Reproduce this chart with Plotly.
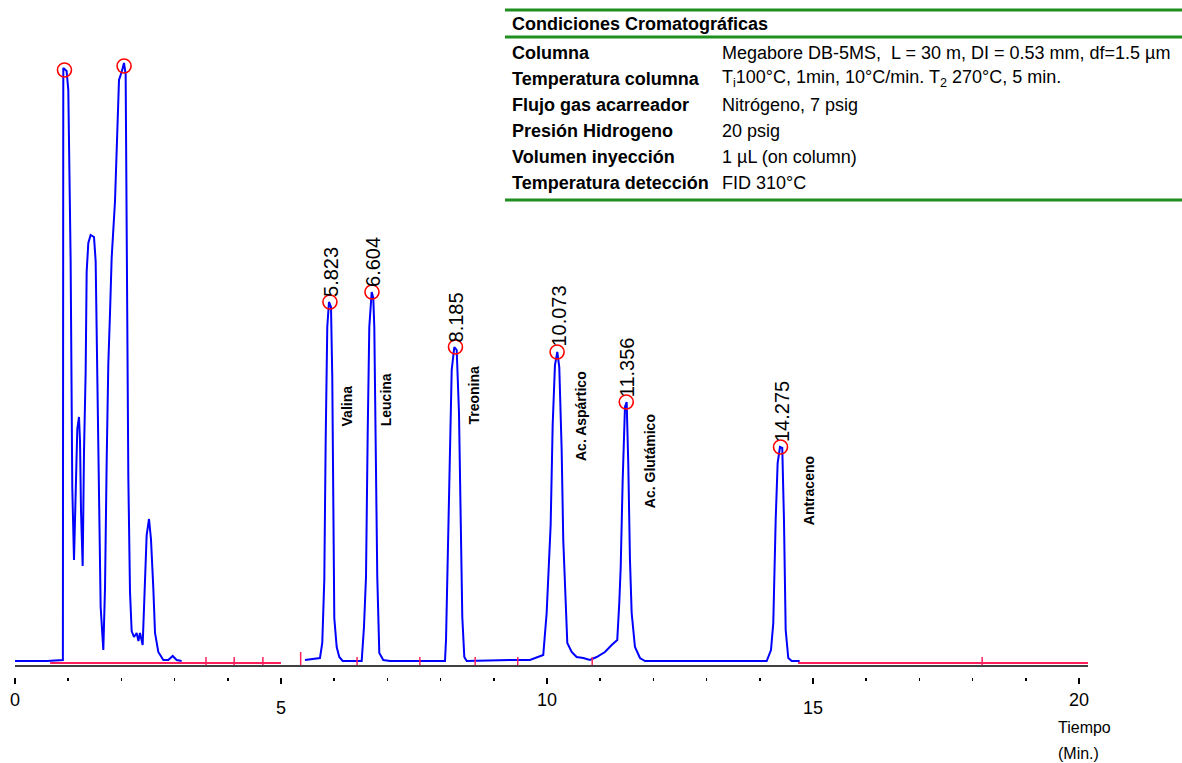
import plotly.graph_objects as go

# ---------------- data ----------------
# chromatogram trace: time (min) and detector signal (arbitrary units)
time_min = [
    0.00, 0.60, 0.90, 0.908, 0.97, 1.002, 1.046, 1.077, 1.109, 1.128, 1.171, 1.203, 1.222, 1.241,
    1.272, 1.297, 1.328, 1.347, 1.378, 1.422, 1.485, 1.516, 1.547, 1.579, 1.61, 1.66, 1.692, 1.723,
    1.754, 1.786, 1.817, 1.88, 1.911, 1.955, 2.005, 2.049, 2.08, 2.099, 2.13, 2.162, 2.193, 2.237,
    2.287, 2.32, 2.35, 2.40, 2.431, 2.475, 2.519, 2.556, 2.60, 2.632, 2.694, 2.788, 2.882, 2.964,
    3.039, 3.133,
    None,
    5.451, 5.733, 5.776, 5.814, 5.840, 5.870, 5.902, 5.940, 5.964, 5.983, 6.002, 6.047, 6.096, 6.160,
    6.517, 6.560, 6.598, 6.630, 6.660, 6.705, 6.735, 6.754, 6.786, 6.810, 6.848, 6.923, 7.05,
    7.739, 8.083, 8.102, 8.133, 8.177, 8.209, 8.258, 8.303, 8.346, 8.378, 8.408, 8.446, 8.491,
    9.35, 9.680, 9.930, 9.994, 10.069, 10.107, 10.150, 10.194, 10.231, 10.276, 10.306, 10.352,
    10.382, 10.464, 10.558, 10.682, 10.808, 10.934, 11.090, 11.216, 11.321, 11.359, 11.386, 11.423,
    11.466, 11.498, 11.528, 11.560, 11.592, 11.654, 11.748, 11.842,
    14.130, 14.211, 14.254, 14.299, 14.336, 14.380, 14.423, 14.455, 14.487, 14.536, 14.600, 14.75,
]
signal = [
    0, 0, 1, 593, 590, 571, 400, 173, 101, 138, 232, 244, 220, 150,
    95, 209, 289, 389, 418, 426, 424, 400, 291, 138, 54, 11, 73, 199,
    297, 348, 403, 460, 520, 581, 589, 598, 587, 434, 185, 69, 30, 24,
    28, 20, 28, 16, 69, 126, 142, 122, 73, 28, 9, 1, 1, 5,
    1, 0,
    None,
    1, 3, 18, 81, 221, 334, 359, 354, 284, 164, 43, 14, 4, 0,
    0, 34, 84, 228, 334, 369, 363, 334, 218, 84, 8, 1, 0,
    0, 0, 21, 91, 204, 291, 314, 311, 248, 121, 44, 4, 0,
    1, 1, 6, 48, 136, 236, 296, 309, 294, 211, 121, 54,
    18, 9, 4, 3, 1, 4, 9, 16, 21, 58, 94, 181,
    254, 259, 198, 101, 48, 14, 3, 0,
    0, 11, 38, 141, 198, 214, 213, 141, 31, 3, 0, 0,
]

# detected apexes (circled)
apex_time = [0.93, 2.05, 5.92, 6.71, 8.28, 10.19, 11.49, 14.39]
apex_signal = [591, 595, 359, 369, 314, 309, 259, 214]
# retention-time labels belong to the last six apexes
rt_labels = ["5.823", "6.604", "8.185", "10.073", "11.356", "14.275"]

# compound names and where they are written
compounds = ["Valina", "Leucina", "Treonina", "Ac. Aspártico", "Ac. Glutámico", "Antraceno"]
compound_time = [6.24, 6.97, 8.61, 10.64, 11.94, 14.92]
compound_signal = [233, 233, 234, 198, 151, 134]

# integration baseline and event marks
baseline_time = [0.66, 5.0, None, 14.72, 20.17]
baseline_signal = [-2, -2, None, -2, -2]
event_time = [3.59, 4.12, 4.66, 5.37, 6.43, 7.61, 8.65, 9.45, 10.85, 18.18]

# axis ticks / labels (labels alternate between two heights)
x_ticks_upper = [0, 10, 20]
x_labels_upper = ["0", "10", "20"]
x_ticks_lower = [5, 15]
x_labels_lower = ["5", "15"]

# conditions table
table_title = "Condiciones Cromatográficas"
table_keys = ["Columna", "Temperatura columna", "Flujo gas acarreador",
              "Presión Hidrogeno", "Volumen inyección", "Temperatura detección"]
table_values = ["Megabore DB-5MS,  L = 30 m, DI = 0.53 mm, df=1.5 µm",
                "T<sub>i</sub>100°C, 1min, 10°C/min. T<sub>2</sub> 270°C, 5 min.",
                "Nitrógeno, 7 psig",
                "20 psig",
                "1 µL (on column)",
                "FID 310°C"]

# ---------------- layout geometry ----------------
W, H = 1182, 763
ML, MR, MT, MB = 15, 94, 0, 86
PW = W - ML - MR
PH = H - MT - MB


def fx(px):
    return (px - ML) / PW


def fy(py):
    return 1 - (py - MT) / PH


FONT = "Liberation Sans, Arial, sans-serif"
BLUE = "#0000ff"
RED = "#ff0000"
PINK = "#ff1f5a"
GREEN = "#1f8f1f"

fig = go.Figure()

# axis line (on overlaid axis so that axis is drawn)
fig.add_trace(go.Scatter(x=[0, 20.17], y=[-5, -5], mode="lines",
                         line=dict(color="black", width=1.6),
                         xaxis="x2", hoverinfo="skip", showlegend=False))

# chromatogram
fig.add_trace(go.Scatter(x=time_min, y=signal, mode="lines",
                         line=dict(color=BLUE, width=2), connectgaps=False,
                         hoverinfo="skip", showlegend=False))

# integration baseline
fig.add_trace(go.Scatter(x=baseline_time, y=baseline_signal, mode="lines",
                         line=dict(color=PINK, width=2), connectgaps=False,
                         hoverinfo="skip", showlegend=False))

# event marks
ev_x, ev_y = [], []
for i, t in enumerate(event_time):
    top = 9 if i == 3 else 4
    ev_x += [t, t, None]
    ev_y += [-4, top, None]
fig.add_trace(go.Scatter(x=ev_x, y=ev_y, mode="lines",
                         line=dict(color=PINK, width=1.5),
                         hoverinfo="skip", showlegend=False))

# apex circles
fig.add_trace(go.Scatter(x=apex_time, y=apex_signal, mode="markers",
                         marker=dict(symbol="circle-open", size=14, color=RED,
                                     line=dict(width=1.6, color=RED)),
                         hoverinfo="skip", showlegend=False, cliponaxis=False))

annotations = []
# retention-time labels
for t, s, lab in zip(apex_time[2:], apex_signal[2:], rt_labels):
    annotations.append(dict(x=t, y=s, text=lab, showarrow=False, textangle=-90,
                            xanchor="center", yanchor="bottom", yshift=3, xshift=1,
                            font=dict(family=FONT, size=20, color="black")))
# compound labels
for t, s, lab in zip(compound_time, compound_signal, compounds):
    annotations.append(dict(x=t, y=s, text="<b>" + lab + "</b>", showarrow=False,
                            textangle=-90, xanchor="center", yanchor="bottom",
                            font=dict(family=FONT, size=14, color="black")))

# table
annotations.append(dict(xref="paper", yref="paper", x=fx(510), y=fy(24),
                        text="<b>" + table_title + "</b>", showarrow=False,
                        xanchor="left", yanchor="middle",
                        font=dict(family=FONT, size=18, color="black")))
row_y = [53, 79, 105, 131, 157, 183]
for ry, k, v in zip(row_y, table_keys, table_values):
    annotations.append(dict(xref="paper", yref="paper", x=fx(510), y=fy(ry),
                            text="<b>" + k + "</b>", showarrow=False,
                            xanchor="left", yanchor="middle",
                            font=dict(family=FONT, size=18, color="black")))
    annotations.append(dict(xref="paper", yref="paper", x=fx(720), y=fy(ry),
                            text=v, showarrow=False,
                            xanchor="left", yanchor="middle",
                            font=dict(family=FONT, size=18, color="black")))

# axis title
annotations.append(dict(xref="paper", yref="paper", x=fx(1056), y=fy(727),
                        text="Tiempo", showarrow=False, xanchor="left", yanchor="middle",
                        font=dict(family=FONT, size=16, color="black")))
annotations.append(dict(xref="paper", yref="paper", x=fx(1056), y=fy(753),
                        text="(Min.)", showarrow=False, xanchor="left", yanchor="middle",
                        font=dict(family=FONT, size=16, color="black")))

shapes = []
for ly in [10, 37, 200]:
    shapes.append(dict(type="line", xref="paper", yref="paper",
                       x0=fx(505), x1=fx(1182), y0=fy(ly), y1=fy(ly),
                       line=dict(color=GREEN, width=3)))

fig.update_layout(
    width=W, height=H,
    margin=dict(l=ML, r=MR, t=MT, b=MB, pad=0, autoexpand=False),
    paper_bgcolor="white", plot_bgcolor="white",
    showlegend=False,
    xaxis=dict(range=[0, 20.17], showgrid=False, zeroline=False, showline=False,
               tickmode="array", tickvals=x_ticks_upper, ticktext=x_labels_upper,
               ticks="outside", ticklen=6, tickwidth=1.5, tickcolor="black",
               minor=dict(tickmode="linear", tick0=0, dtick=1, ticks="outside",
                          ticklen=3, tickwidth=1.5, tickcolor="black"),
               tickfont=dict(family=FONT, size=18, color="black"),
               ticklabelstandoff=0),
    xaxis2=dict(overlaying="x", matches="x", anchor="y", side="bottom",
                showgrid=False, zeroline=False, showline=False,
                tickmode="array", tickvals=x_ticks_lower, ticktext=x_labels_lower,
                ticks="outside", ticklen=6, tickwidth=1.5, tickcolor="black",
                tickfont=dict(family=FONT, size=18, color="black"),
                ticklabelstandoff=8),
    yaxis=dict(range=[-16, 661], visible=False, showgrid=False, zeroline=False),
    annotations=annotations,
    shapes=shapes,
)

fig.write_html("out.html",
               config={"displayModeBar": False, "staticPlot": True},
               post_script="document.body.style.margin='0px';document.body.style.overflow='hidden';")
